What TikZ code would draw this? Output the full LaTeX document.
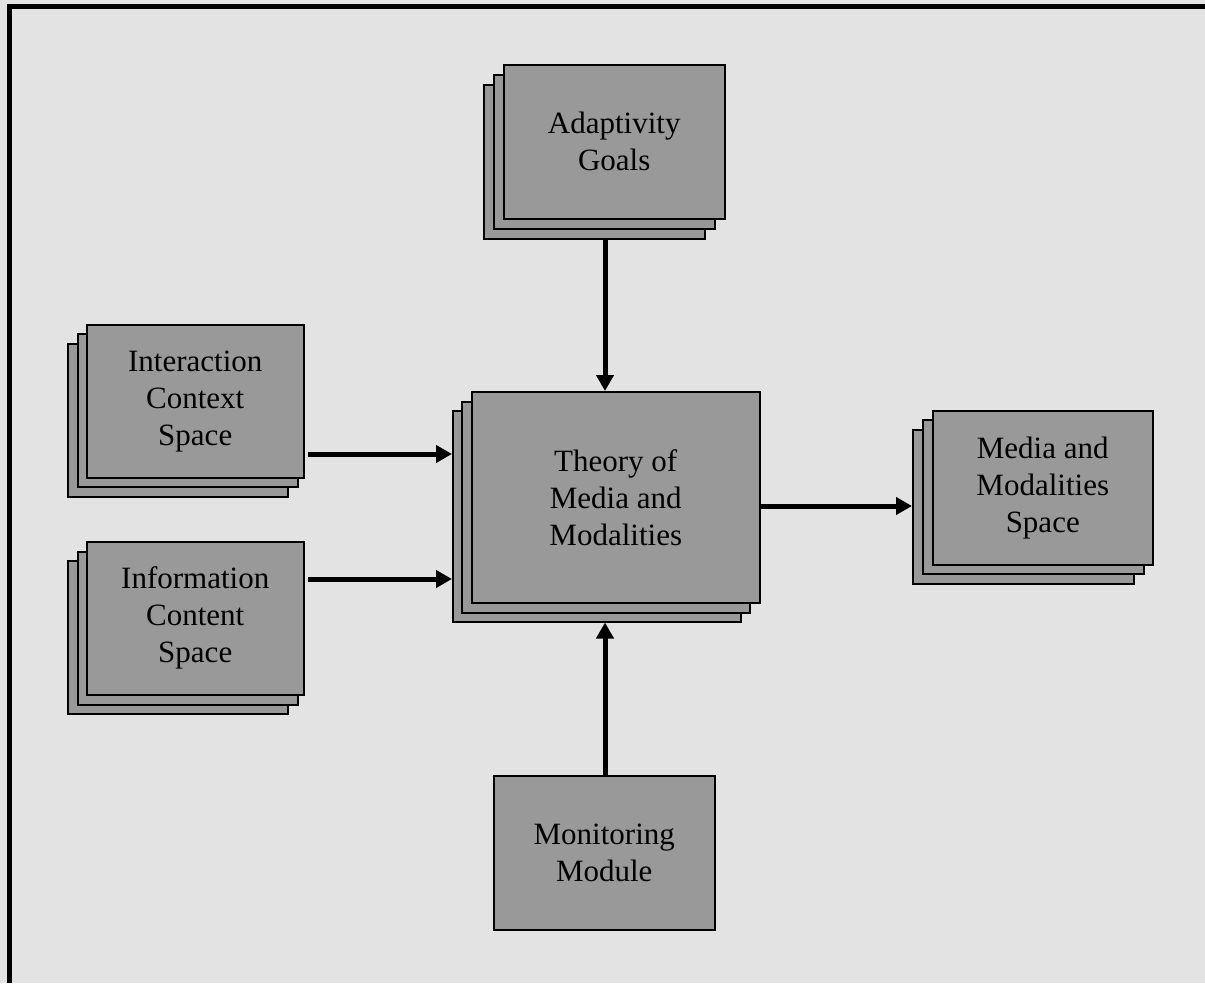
\documentclass[tikz,border=0pt]{standalone}
\usepackage{fontspec}
\setmainfont{Liberation Serif}
\usetikzlibrary{arrows.meta}
\definecolor{bg}{HTML}{E3E3E3}
\definecolor{boxfill}{HTML}{999999}
\begin{document}
\begin{tikzpicture}[x=1pt,y=-1pt,
  boxstyle/.style={draw=black, line width=1.5pt, fill=boxfill, anchor=north west,
    inner sep=0pt, align=center, font=\fontsize{31}{37}\selectfont},
  arr/.style={line width=5pt, -{Triangle[length=16pt,width=17pt]}}]
\useasboundingbox (0,0) rectangle (1205,983);
\fill[bg] (0,0) rectangle (1205,983);
\draw[line width=5pt] (9.5,983) -- (9.5,6.5) -- (1205,6.5);

% Adaptivity Goals
\node[boxstyle, minimum width=221pt, minimum height=154pt] (adaB) at (483,84) {};
\node[boxstyle, minimum width=221pt, minimum height=154pt] (adaM) at (493,74) {};
\node[boxstyle, minimum width=221pt, minimum height=154pt] (adaF) at (503,64) {Adaptivity\\Goals};

% Interaction Context Space
\node[boxstyle, minimum width=220pt, minimum height=153pt] (intB) at (67,343) {};
\node[boxstyle, minimum width=220pt, minimum height=153pt] (intM) at (77,333) {};
\node[boxstyle, minimum width=217pt, minimum height=153pt] (intF) at (86,324) {Interaction\\Context\\Space};

% Information Content Space
\node[boxstyle, minimum width=220pt, minimum height=153pt] (infB) at (67,560) {};
\node[boxstyle, minimum width=220pt, minimum height=153pt] (infM) at (77,551) {};
\node[boxstyle, minimum width=217pt, minimum height=153pt] (infF) at (86,541) {Information\\Content\\Space};

% Theory of Media and Modalities
\node[boxstyle, minimum width=288pt, minimum height=211pt] (theB) at (452,410) {};
\node[boxstyle, minimum width=288pt, minimum height=211pt] (theM) at (461,401) {};
\node[boxstyle, minimum width=288pt, minimum height=211pt] (theF) at (471,391) {Theory of\\Media and\\Modalities};

% Media and Modalities Space
\node[boxstyle, minimum width=221pt, minimum height=154pt] (medB) at (912,429) {};
\node[boxstyle, minimum width=221pt, minimum height=154pt] (medM) at (922,419) {};
\node[boxstyle, minimum width=220pt, minimum height=154pt] (medF) at (932,410) {Media and\\Modalities\\Space};

% Monitoring Module
\node[boxstyle, minimum width=221pt, minimum height=154pt] (mon) at (493,775) {Monitoring\\Module};

% connectors
\coordinate (vx) at (605,0);
\coordinate (h1) at (0,454);
\coordinate (h2) at (0,579);
\coordinate (h3) at (0,506);
\draw[arr] (adaB.south -| vx) -- (theF.north -| vx);
\draw[arr] (mon.north -| vx) -- (theB.south -| vx);
\draw[arr] ([xshift=3pt]intF.east |- h1) -- (theB.west |- h1);
\draw[arr] ([xshift=3pt]infF.east |- h2) -- (theB.west |- h2);
\draw[arr] (theF.east |- h3) -- (medB.west |- h3);
\end{tikzpicture}
\end{document}
